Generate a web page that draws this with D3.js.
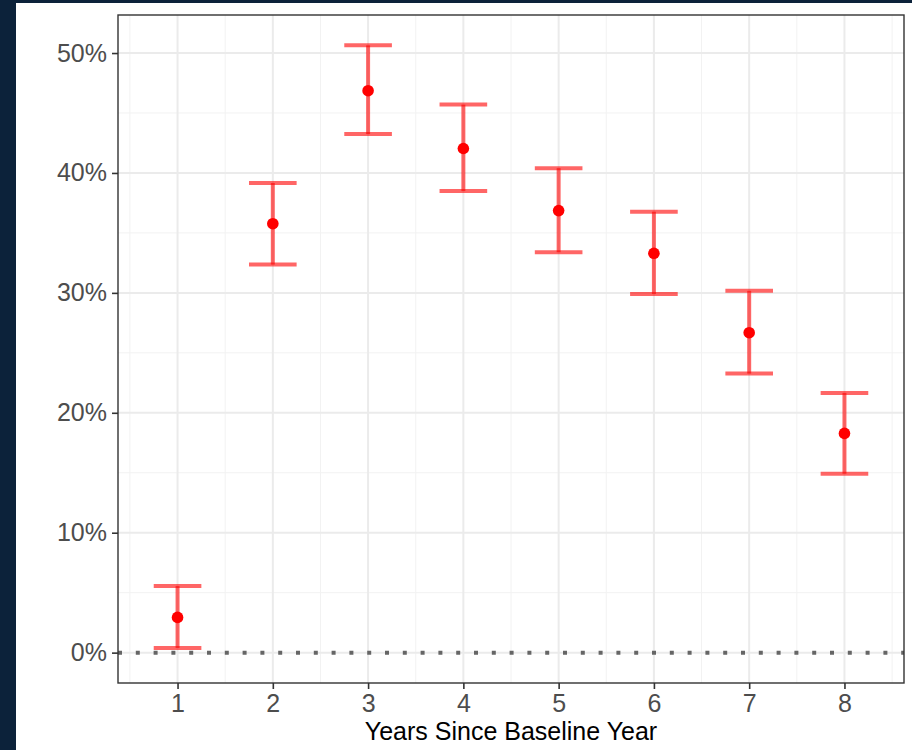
<!DOCTYPE html>
<html>
<head>
<meta charset="utf-8">
<script src="https://cdn.jsdelivr.net/npm/d3@7"></script>
<style>
  body { margin: 0; background: #0c223a; }
  svg { display: block; }
</style>
</head>
<body>
<script>
// Data (percent)
var years = [1, 2, 3, 4, 5, 6, 7, 8];
var estimate = [2.94, 35.77, 46.86, 42.04, 36.86, 33.3, 26.68, 18.28];
var upper = [5.55, 39.16, 50.64, 45.7, 40.4, 36.77, 30.17, 21.66];
var lower = [0.39, 32.36, 43.24, 38.49, 33.39, 29.9, 23.27, 14.92];
var yTicks = [0, 10, 20, 30, 40, 50];
var yMinor = [5, 15, 25, 35, 45];
var xMinor = [0.5, 1.5, 2.5, 3.5, 4.5, 5.5, 6.5, 7.5, 8.5];

// Width and height
var w = 912;
var h = 750;
var panel = {left: 118, top: 15, right: 904, bottom: 683};
var font = "'Liberation Sans', Arial, sans-serif";

var svg = d3.select("body").append("svg")
    .attr("width", w)
    .attr("height", h);

// white plot background (navy frame left and top)
svg.append("rect")
    .attr("x", 16).attr("y", 3)
    .attr("width", w - 16).attr("height", h - 3)
    .attr("fill", "#ffffff");

// Scales
var xScale = d3.scaleLinear()
    .domain([0.375, 8.625])
    .range([panel.left, panel.right]);

var yMax = 50.64, yMin = 0;
var pad = (yMax - yMin) * 0.05;
var yScale = d3.scaleLinear()
    .domain([yMin - pad, yMax + pad])
    .range([panel.bottom, panel.top]);

// Grid
var grid = svg.append("g");
grid.selectAll("line.ymin")
    .data(yMinor).enter().append("line")
    .attr("x1", panel.left).attr("x2", panel.right)
    .attr("y1", function(d) { return yScale(d); })
    .attr("y2", function(d) { return yScale(d); })
    .attr("stroke", "#f2f2f2").attr("stroke-width", 1);
grid.selectAll("line.xmin")
    .data(xMinor).enter().append("line")
    .attr("y1", panel.top).attr("y2", panel.bottom)
    .attr("x1", function(d) { return xScale(d); })
    .attr("x2", function(d) { return xScale(d); })
    .attr("stroke", "#f2f2f2").attr("stroke-width", 1);
grid.selectAll("line.ymaj")
    .data(yTicks).enter().append("line")
    .attr("x1", panel.left).attr("x2", panel.right)
    .attr("y1", function(d) { return yScale(d); })
    .attr("y2", function(d) { return yScale(d); })
    .attr("stroke", "#ebebeb").attr("stroke-width", 2);
grid.selectAll("line.xmaj")
    .data(years).enter().append("line")
    .attr("y1", panel.top).attr("y2", panel.bottom)
    .attr("x1", function(d) { return xScale(d); })
    .attr("x2", function(d) { return xScale(d); })
    .attr("stroke", "#ebebeb").attr("stroke-width", 2);

// dotted zero line
svg.append("line")
    .attr("x1", panel.left).attr("x2", panel.right)
    .attr("y1", yScale(0)).attr("y2", yScale(0))
    .attr("stroke", "#666666")
    .attr("stroke-width", 4)
    .attr("stroke-dasharray", "4,13.8");

// error bars
var half = 0.25;
var bars = svg.append("g")
    .attr("stroke", "#ff0000")
    .attr("stroke-opacity", 0.6)
    .attr("stroke-width", 4);

years.forEach(function(yr, i) {
    bars.append("line")
        .attr("x1", xScale(yr)).attr("x2", xScale(yr))
        .attr("y1", yScale(lower[i])).attr("y2", yScale(upper[i]));
    bars.append("line")
        .attr("x1", xScale(yr - half)).attr("x2", xScale(yr + half))
        .attr("y1", yScale(upper[i])).attr("y2", yScale(upper[i]));
    bars.append("line")
        .attr("x1", xScale(yr - half)).attr("x2", xScale(yr + half))
        .attr("y1", yScale(lower[i])).attr("y2", yScale(lower[i]));
});

// points
svg.selectAll("circle")
    .data(years)
    .enter()
    .append("circle")
    .attr("cx", function(d) { return xScale(d); })
    .attr("cy", function(d, i) { return yScale(estimate[i]); })
    .attr("r", 5.8)
    .attr("fill", "#ff0000");

// Axis
var xAxis = d3.axisBottom(xScale)
    .tickValues(years)
    .tickSize(6)
    .tickSizeOuter(0)
    .tickPadding(5)
    .tickFormat(d3.format("d"));

var yAxis = d3.axisLeft(yScale)
    .tickValues(yTicks)
    .tickSize(6)
    .tickSizeOuter(0)
    .tickPadding(5)
    .tickFormat(function(d) { return d + "%"; });

var gx = svg.append("g")
    .attr("transform", "translate(0," + panel.bottom + ")")
    .call(xAxis);
var gy = svg.append("g")
    .attr("transform", "translate(" + panel.left + ",0)")
    .call(yAxis);

[gx, gy].forEach(function(g) {
    g.select(".domain").remove();
    g.selectAll(".tick line").attr("stroke", "#333333").attr("stroke-width", 1.6);
    g.selectAll(".tick text")
        .attr("fill", "#4d4d4d")
        .style("font-family", font)
        .style("font-size", "25px");
});

// panel border
svg.append("rect")
    .attr("x", panel.left).attr("y", panel.top)
    .attr("width", panel.right - panel.left)
    .attr("height", panel.bottom - panel.top)
    .attr("fill", "none")
    .attr("stroke", "#333333")
    .attr("stroke-width", 1.4);

// axis title
svg.append("text")
    .attr("x", (panel.left + panel.right) / 2)
    .attr("y", 740)
    .attr("text-anchor", "middle")
    .attr("fill", "#000000")
    .style("font-family", font)
    .style("font-size", "25px")
    .text("Years Since Baseline Year");
</script>
</body>
</html>
